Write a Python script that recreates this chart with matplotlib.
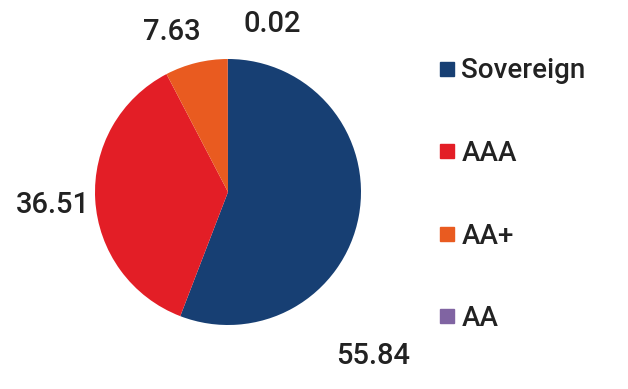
import matplotlib.pyplot as plt
from matplotlib.lines import Line2D

plt.rcParams['font.family'] = ['Roboto', 'DejaVu Sans']

# data
ratings = ['Sovereign', 'AAA', 'AA+', 'AA']
shares = [55.84, 36.51, 7.63, 0.02]
colors = ['#173f73', '#e31e26', '#e95b20', '#8064a2']
# label positions (radius units)
label_pos = [(1.09, -1.23), (-1.32, -0.10), (-0.42, 1.20), (0.33, 1.26)]

fig = plt.figure(figsize=(6.28, 3.89), dpi=100)
ax = fig.add_axes([0, 0, 1, 1])

ax.pie(shares, colors=colors, startangle=90, counterclock=False,
       radius=1.0, center=(0, 0), wedgeprops=dict(linewidth=0))

for val, (x, y) in zip(shares, label_pos):
    ax.text(x, y, f'{val:.2f}', ha='center', va='center',
            fontsize=21, fontweight='medium', color='#222222')

ax.set_xlim(-228 / 133, 400 / 133)
ax.set_ylim(-197 / 133, 192 / 133)
ax.set_aspect('auto')
ax.axis('off')

handles = [Line2D([], [], marker='s', linestyle='none', markersize=10,
                  markerfacecolor=c, markeredgecolor=c) for c in colors]
leg = fig.legend(handles, ratings, loc='upper left',
                 bbox_to_anchor=(0.677, 0.888), frameon=False,
                 prop=dict(size=20, weight='medium'), labelspacing=2.0,
                 handlelength=0.6, handletextpad=0.2, borderpad=0)
for t in leg.get_texts():
    t.set_color('#222222')

fig.savefig('out.png', dpi=100)
